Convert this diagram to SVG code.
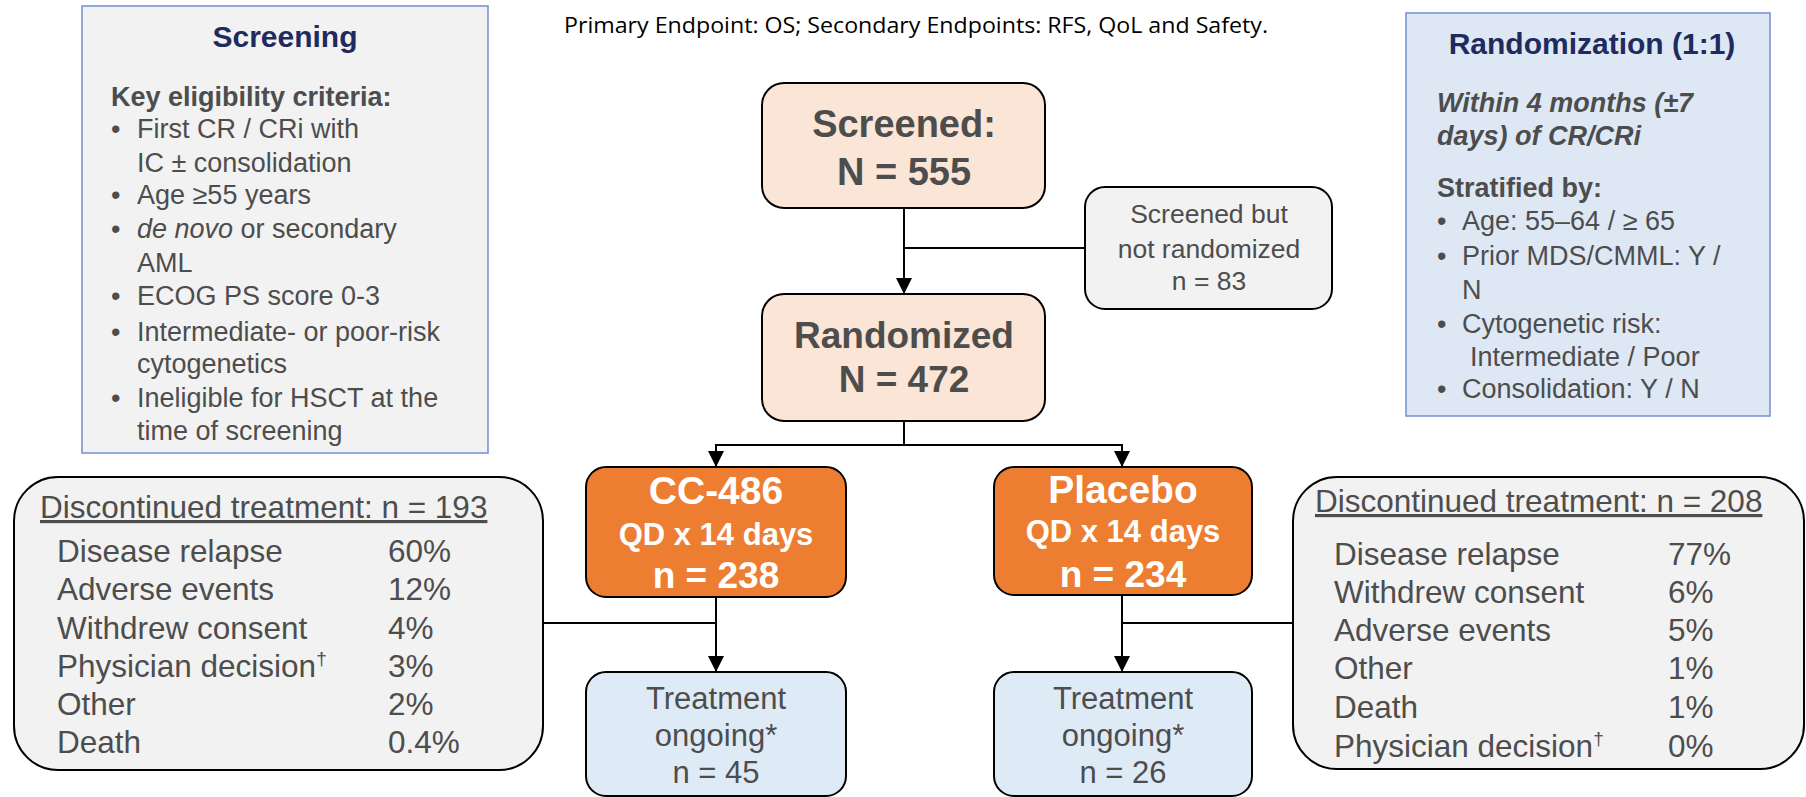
<svg xmlns="http://www.w3.org/2000/svg" width="1806" height="797" viewBox="0 0 1806 797">
<style>
  .t { font-family: "Liberation Sans", Arial, sans-serif; fill: #4d4d4d; }
  .navy { font-family: "Liberation Sans", Arial, sans-serif; font-weight: bold; fill: #1f2a5e; font-size: 30px; }
  .b { font-weight: bold; }
  .w { fill: #ffffff; font-weight: bold; }
  .box { stroke: #000; stroke-width: 2; }
  .info { stroke: #6f8fd4; stroke-width: 1.5; }
  .conn { stroke: #000; stroke-width: 2; fill: none; }
  .mid { text-anchor: middle; }
</style>
<defs>
  <marker id="arr" markerUnits="userSpaceOnUse" markerWidth="16" markerHeight="17" refX="15" refY="8" orient="auto">
    <path d="M0,0 L16,8 L0,16 Z" fill="#000"/>
  </marker>
</defs>

<rect width="1806" height="797" fill="#ffffff"/>

<text id="endpoints" x="564" y="33" font-family="'Open Sans', 'Noto Sans', sans-serif" font-size="22" fill="#000" textLength="704" lengthAdjust="spacingAndGlyphs">Primary Endpoint: OS; Secondary Endpoints: RFS, QoL and Safety.</text>

<g id="connectors">
  <line class="conn" x1="904" y1="208" x2="904" y2="293" marker-end="url(#arr)"/>
  <line class="conn" x1="904" y1="248" x2="1085" y2="248"/>
  <polyline class="conn" points="904,421 904,445"/>
  <polyline class="conn" points="716,445 1122,445"/>
  <line class="conn" x1="716" y1="444" x2="716" y2="466" marker-end="url(#arr)"/>
  <line class="conn" x1="1122" y1="444" x2="1122" y2="466" marker-end="url(#arr)"/>
  <line class="conn" x1="716" y1="597" x2="716" y2="671" marker-end="url(#arr)"/>
  <line class="conn" x1="1122" y1="595" x2="1122" y2="671" marker-end="url(#arr)"/>
  <line class="conn" x1="543" y1="623" x2="716" y2="623"/>
  <line class="conn" x1="1122" y1="623" x2="1293" y2="623"/>
</g>

<g id="screening">
  <rect class="info" x="82" y="6" width="406" height="447" fill="#f2f2f2"/>
  <text class="navy mid" x="285" y="47">Screening</text>
  <g class="t" font-size="27">
    <text class="b" x="111" y="106">Key eligibility criteria:</text>
    <text x="111" y="138">•</text><text x="137" y="138">First CR / CRi with</text>
    <text x="137" y="172">IC ± consolidation</text>
    <text x="111" y="204">•</text><text x="137" y="204">Age ≥55 years</text>
    <text x="111" y="238">•</text><text x="137" y="238"><tspan font-style="italic">de novo</tspan> or secondary</text>
    <text x="137" y="272">AML</text>
    <text x="111" y="305">•</text><text x="137" y="305">ECOG PS score 0-3</text>
    <text x="111" y="341">•</text><text x="137" y="341">Intermediate- or poor-risk</text>
    <text x="137" y="373">cytogenetics</text>
    <text x="111" y="407">•</text><text x="137" y="407">Ineligible for HSCT at the</text>
    <text x="137" y="440">time of screening</text>
  </g>
</g>

<g id="randomization">
  <rect class="info" x="1406" y="13" width="364" height="403" fill="#dde8f4"/>
  <text class="navy mid" x="1592" y="54">Randomization (1:1)</text>
  <g class="t" font-size="27">
    <text class="b" font-style="italic" x="1437" y="112">Within 4 months (±7</text>
    <text class="b" font-style="italic" x="1437" y="145">days) of CR/CRi</text>
    <text class="b" x="1437" y="197">Stratified by:</text>
    <text x="1437" y="230">•</text><text x="1462" y="230">Age: 55–64 / ≥ 65</text>
    <text x="1437" y="265">•</text><text x="1462" y="265">Prior MDS/CMML: Y /</text>
    <text x="1462" y="299">N</text>
    <text x="1437" y="333">•</text><text x="1462" y="333">Cytogenetic risk:</text>
    <text x="1470" y="366">Intermediate / Poor</text>
    <text x="1437" y="398">•</text><text x="1462" y="398">Consolidation: Y / N</text>
  </g>
</g>

<g id="screened">
  <rect class="box" x="762" y="83" width="283" height="125" rx="22" fill="#fbe5d6"/>
  <text class="t b mid" x="904" y="137" font-size="38">Screened:</text>
  <text class="t b mid" x="904" y="185" font-size="38">N = 555</text>
</g>

<g id="not-randomized">
  <rect class="box" x="1085" y="187" width="247" height="122" rx="20" fill="#f2f2f2"/>
  <text class="t mid" x="1209" y="223" font-size="26.5">Screened but</text>
  <text class="t mid" x="1209" y="258" font-size="26.5">not randomized</text>
  <text class="t mid" x="1209" y="290" font-size="26.5">n = 83</text>
</g>

<g id="randomized">
  <rect class="box" x="762" y="294" width="283" height="127" rx="22" fill="#fbe5d6"/>
  <text class="t b mid" x="904" y="348" font-size="37">Randomized</text>
  <text class="t b mid" x="904" y="392" font-size="37">N = 472</text>
</g>

<g id="cc486">
  <rect class="box" x="586" y="467" width="260" height="130" rx="20" fill="#ed7d31"/>
  <text class="t w mid" x="716" y="504" font-size="39">CC-486</text>
  <text class="t w mid" x="716" y="545" font-size="31">QD x 14 days</text>
  <text class="t w mid" x="716" y="588" font-size="37">n = 238</text>
</g>

<g id="placebo">
  <rect class="box" x="994" y="467" width="258" height="128" rx="20" fill="#ed7d31"/>
  <text class="t w mid" x="1123" y="503" font-size="39">Placebo</text>
  <text class="t w mid" x="1123" y="542" font-size="31">QD x 14 days</text>
  <text class="t w mid" x="1123" y="587" font-size="37">n = 234</text>
</g>

<g id="ongoing-cc486">
  <rect class="box" x="586" y="672" width="260" height="124" rx="20" fill="#deebf7"/>
  <text class="t mid" x="716" y="709" font-size="31">Treatment</text>
  <text class="t mid" x="716" y="746" font-size="31">ongoing*</text>
  <text class="t mid" x="716" y="783" font-size="31">n = 45</text>
</g>

<g id="ongoing-placebo">
  <rect class="box" x="994" y="672" width="258" height="124" rx="20" fill="#deebf7"/>
  <text class="t mid" x="1123" y="709" font-size="31">Treatment</text>
  <text class="t mid" x="1123" y="746" font-size="31">ongoing*</text>
  <text class="t mid" x="1123" y="783" font-size="31">n = 26</text>
</g>

<g id="discontinued-cc486">
  <rect class="box" x="14" y="477" width="529" height="293" rx="44" fill="#f2f2f2"/>
  <g class="t" font-size="31.5">
    <text x="40" y="518" text-decoration="underline">Discontinued treatment: n = 193</text>
    <text x="57" y="562">Disease relapse</text><text x="388" y="562">60%</text>
    <text x="57" y="600">Adverse events</text><text x="388" y="600">12%</text>
    <text x="57" y="639">Withdrew consent</text><text x="388" y="639">4%</text>
    <text x="57" y="677">Physician decision<tspan font-size="19" dy="-12">†</tspan></text><text x="388" y="677">3%</text>
    <text x="57" y="715">Other</text><text x="388" y="715">2%</text>
    <text x="57" y="753">Death</text><text x="388" y="753">0.4%</text>
  </g>
</g>

<g id="discontinued-placebo">
  <rect class="box" x="1293" y="477" width="511" height="292" rx="44" fill="#f2f2f2"/>
  <g class="t" font-size="31.5">
    <text x="1315" y="512" text-decoration="underline">Discontinued treatment: n = 208</text>
    <text x="1334" y="565">Disease relapse</text><text x="1668" y="565">77%</text>
    <text x="1334" y="603">Withdrew consent</text><text x="1668" y="603">6%</text>
    <text x="1334" y="641">Adverse events</text><text x="1668" y="641">5%</text>
    <text x="1334" y="679">Other</text><text x="1668" y="679">1%</text>
    <text x="1334" y="718">Death</text><text x="1668" y="718">1%</text>
    <text x="1334" y="757">Physician decision<tspan font-size="19" dy="-12">†</tspan></text><text x="1668" y="757">0%</text>
  </g>
</g>
</svg>
